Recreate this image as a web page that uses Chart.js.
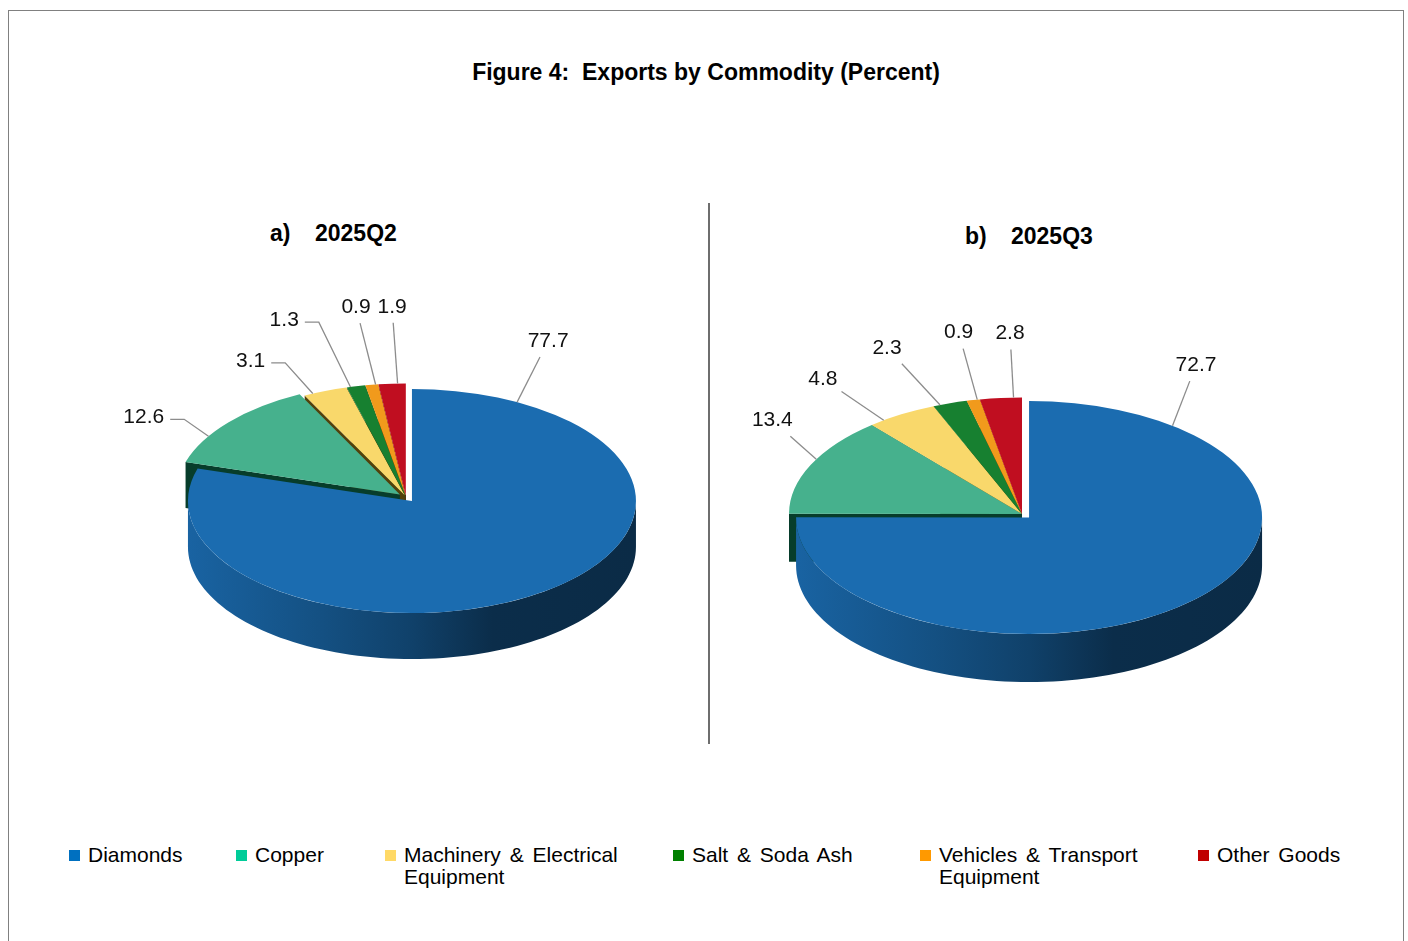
<!DOCTYPE html>
<html>
<head>
<meta charset="utf-8">
<title>Exports by Commodity</title>
<script src="https://cdn.jsdelivr.net/npm/chart.js@4.4.1/dist/chart.umd.min.js"></script>
<style>
  body { margin: 0; background: #fff; font-family: "Liberation Sans", Arial, sans-serif; color: #000; }
  #page { position: relative; width: 1408px; height: 941px; overflow: hidden; }
  #frame { position: absolute; left: 8px; top: 10px; width: 1396px; height: 1000px; border: 1px solid #808080; box-sizing: border-box; }
  #title { position: absolute; left: 0; top: 59px; width: 1412px; text-align: center; font-weight: bold; font-size: 23px; line-height: 26px; }
  .sub { position: absolute; font-weight: bold; font-size: 23px; line-height: 26px; white-space: pre; }
  #divider { position: absolute; left: 708px; top: 203px; width: 1.5px; height: 541px; background: #6e6e6e; }
  canvas { position: absolute; }
  .lg { position: absolute; top: 844px; font-size: 21px; line-height: 22px; word-spacing: 3px; }
  .lg i { position: absolute; left: 0; top: 6px; width: 11px; height: 11px; }
  .lg span { position: absolute; left: 19px; top: 0; width: 232px; }
</style>
</head>
<body>
<div id="page">
  <div id="frame"></div>
  <div id="title">Figure 4:&nbsp; Exports by Commodity (Percent)</div>
  <div class="sub" style="left:270px; top:220px;">a)</div>
  <div class="sub" style="left:315px; top:220px;">2025Q2</div>
  <div class="sub" style="left:965px; top:223px;">b)</div>
  <div class="sub" style="left:1011px; top:223px;">2025Q3</div>
  <div id="divider"></div>
  <canvas id="pieQ2" width="700" height="520" style="left:56px; top:237px;"></canvas>
  <canvas id="pieQ3" width="700" height="520" style="left:672px; top:254px;"></canvas>
  <div id="legend"></div>
</div>
<script>
// export shares by commodity, percent
const categories = ['Diamonds', 'Copper', 'Machinery & Electrical Equipment', 'Salt & Soda Ash', 'Vehicles & Transport Equipment', 'Other Goods'];
const q2Values = [77.7, 12.6, 3.1, 1.3, 0.9, 1.9];
const q3Values = [72.7, 13.4, 4.8, 2.3, 0.9, 2.8];

const sliceColors = ['#1b6cb0', '#46b18d', '#f9d86b', '#178030', '#f19a1c', '#c00e20'];
const legendColors = ['#0070c0', '#00cc99', '#ffd966', '#008000', '#ff9900', '#c00000'];
const legendLeft = [69, 236, 385, 673, 920, 1198];

function shade(hex, f) {
  const n = parseInt(hex.slice(1), 16);
  const r = Math.round(((n >> 16) & 255) * f);
  const g = Math.round(((n >> 8) & 255) * f);
  const b = Math.round((n & 255) * f);
  return `rgb(${r},${g},${b})`;
}

// cut faces a bit deeper and more saturated than a plain shade
function faceColor(hex) {
  const n = parseInt(hex.slice(1), 16);
  const c = [(n >> 16) & 255, (n >> 8) & 255, n & 255];
  const lo = Math.min(...c);
  return `rgb(${c.map(v => Math.round((v - lo * 0.8) * 0.5)).join(',')})`;
}

// fake 3D pie: squash the arcs vertically, add cut faces and an outer wall underneath
const pie3d = {
  id: 'pie3d',
  beforeDatasetsDraw(chart, args, opts) {
    const ctx = chart.ctx;
    const arcs = chart.getDatasetMeta(0).data;
    const values = chart.data.datasets[0].data;
    const tilt = opts.tilt, depth = opts.depth;
    const x0 = arcs[0].x, y0 = arcs[0].y;

    const geo = arcs.map((arc, i) => {
      const mid = (arc.startAngle + arc.endAngle) / 2;
      const d = opts.explode[i] || 0;
      const dx = Math.cos(mid) * d, dy = Math.sin(mid) * d;
      return {
        s: arc.startAngle, e: arc.endAngle, r: arc.outerRadius,
        dx, dy, cx: arc.x + dx, cy: arc.y + dy * tilt,
        color: arc.options.backgroundColor
      };
    });
    const pt = (g, a, down) => [g.cx + g.r * Math.cos(a), g.cy + g.r * Math.sin(a) * tilt + (down ? depth : 0)];

    ctx.save();
    // cut faces that look toward the viewer, back slices first
    geo.slice().reverse().forEach(g => {
      [[g.s, Math.cos(g.s) < 0], [g.e, Math.cos(g.e) > 0]].forEach(([a, vis]) => {
        if (!vis) return;
        const [ex, ey] = pt(g, a, false);
        ctx.beginPath();
        ctx.moveTo(g.cx, g.cy);
        ctx.lineTo(ex, ey);
        ctx.lineTo(ex, ey + depth);
        ctx.lineTo(g.cx, g.cy + depth);
        ctx.closePath();
        ctx.fillStyle = faceColor(g.color);
        ctx.fill();
      });
    });
    // front part of the outer wall
    geo.forEach(g => {
      const s = Math.max(g.s, 0), e = Math.min(g.e, Math.PI);
      if (e <= s) return;
      const steps = 90;
      ctx.beginPath();
      for (let k = 0; k <= steps; k++) {
        const [x, y] = pt(g, s + (e - s) * k / steps, false);
        k ? ctx.lineTo(x, y) : ctx.moveTo(x, y);
      }
      for (let k = steps; k >= 0; k--) {
        const [x, y] = pt(g, s + (e - s) * k / steps, true);
        ctx.lineTo(x, y);
      }
      ctx.closePath();
      const grad = ctx.createLinearGradient(g.cx - g.r, 0, g.cx + g.r, 0);
      grad.addColorStop(0, shade(g.color, 0.92));
      grad.addColorStop(0.3, shade(g.color, 0.74));
      grad.addColorStop(0.5, shade(g.color, 0.6));
      grad.addColorStop(0.68, shade(g.color, 0.42));
      grad.addColorStop(1, shade(g.color, 0.4));
      ctx.fillStyle = grad;
      ctx.fill();
    });
    // top faces, drawn by the arc elements on a squashed context
    arcs.forEach((arc, i) => {
      const g = geo[i];
      ctx.save();
      ctx.translate(arc.x, arc.y);
      ctx.scale(1, tilt);
      ctx.translate(-arc.x + g.dx, -arc.y + g.dy);
      arc.draw(ctx);
      ctx.restore();
    });

    // value labels with leader lines
    ctx.font = '21px "Liberation Sans", Arial, sans-serif';
    ctx.textAlign = 'center';
    ctx.textBaseline = 'middle';
    ctx.strokeStyle = '#8c8c8c';
    ctx.lineWidth = 1.3;
    geo.forEach((g, i) => {
      const [deg, f, lead] = opts.labels[i];
      const th = deg * Math.PI / 180;
      const R = g.r * f;
      const lx = x0 + R * Math.sin(th), ly = y0 - R * Math.cos(th) * tilt;
      const txt = values[i].toFixed(1);
      const w = ctx.measureText(txt).width, h = 20;

      const sDeg = (g.s + Math.PI / 2) * 180 / Math.PI;
      const eDeg = (g.e + Math.PI / 2) * 180 / Math.PI;
      const m = Math.min(0.2 * (eDeg - sDeg), 8);
      const want = lead !== undefined ? lead : deg;
      const phi = Math.min(Math.max(want, sDeg + m), eDeg - m) * Math.PI / 180 - Math.PI / 2;
      const [px, py] = pt(g, phi, false);

      ctx.beginPath();
      ctx.moveTo(px, py);
      if (opts.hook && lx + w / 2 < px - 8) {
        const ex = lx + w / 2 + 6, ey = ly + 2;
        ctx.lineTo(ex + 14, ey);
        ctx.lineTo(ex, ey);
      } else {
        const vx = lx - px, vy = ly - py;
        const t = Math.min(Math.abs((w / 2 + 4) / (vx || 1e-6)), Math.abs((h / 2 + 6) / (vy || 1e-6)));
        ctx.lineTo(lx - vx * t, ly - vy * t);
      }
      ctx.stroke();
      ctx.fillStyle = '#111';
      ctx.fillText(txt, lx, ly);
    });
    ctx.restore();
    return false;
  }
};

function makePie(id, values, cfg) {
  return new Chart(document.getElementById(id), {
    type: 'pie',
    data: {
      labels: categories,
      datasets: [{
        data: values,
        backgroundColor: sliceColors,
        borderWidth: 0,
        radius: cfg.radius
      }]
    },
    options: {
      responsive: false,
      animation: false,
      events: [],
      layout: { padding: 0 },
      plugins: {
        legend: { display: false },
        tooltip: { enabled: false },
        pie3d: cfg
      }
    },
    plugins: [pie3d]
  });
}

// label placement: [angle clockwise from 12 o'clock, distance / radius, optional leader angle]
makePie('pieQ2', q2Values, {
  radius: 224, tilt: 0.5, depth: 46, hook: true,
  explode: [10, 8, 3, 3, 3, 3],
  labels: [[24.5, 1.53, 28], [301.3, 1.37], [330.3, 1.40], [341, 1.67], [352.5, 1.71], [357.9, 1.70]]
});
makePie('pieQ3', q3Values, {
  radius: 233, tilt: 0.5, depth: 48, hook: false,
  explode: [10, 0, 0, 0, 0, 0],
  labels: [[30.3, 1.48, 38], [306.9, 1.34, 298], [323.6, 1.44], [337.9, 1.54], [350.1, 1.58], [358.1, 1.55]]
});

// legend row
const legend = document.getElementById('legend');
categories.forEach((name, i) => {
  const item = document.createElement('div');
  item.className = 'lg';
  item.style.left = legendLeft[i] + 'px';
  item.innerHTML = `<i style="background:${legendColors[i]}"></i><span></span>`;
  item.querySelector('span').textContent = name;
  legend.appendChild(item);
});
</script>
</body>
</html>
